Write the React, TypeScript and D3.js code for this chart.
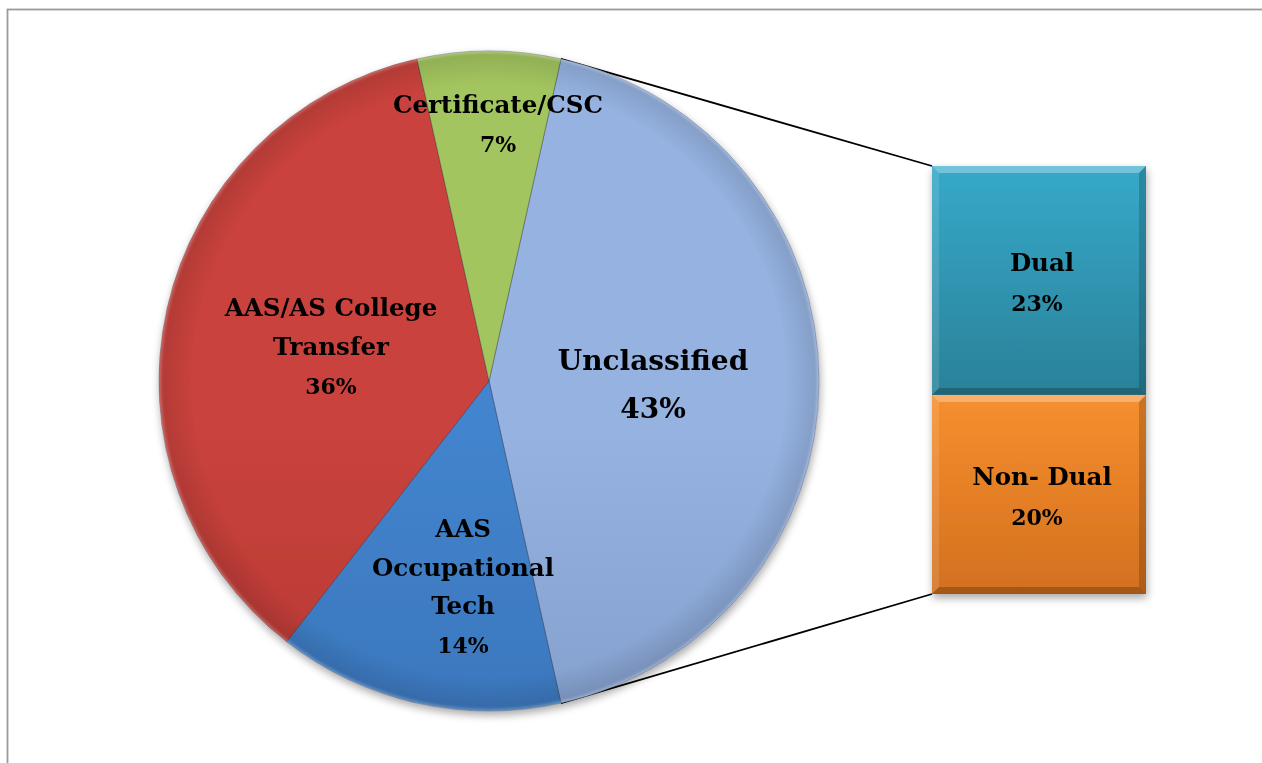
import React from "react";
import * as d3 from "d3";

const pieCategories = ["Unclassified", "AAS Occupational Tech", "AAS/AS College Transfer", "Certificate/CSC"];
const pieValues = [43, 14, 36, 7];
const pieLabelLines = [["Unclassified"], ["AAS", "Occupational", "Tech"], ["AAS/AS College", "Transfer"], ["Certificate/CSC"]];
const barCategories = ["Dual", "Non- Dual"];
const barValues = [23, 20];

const W = 1262;
const H = 763;
const cx = 489;
const cy = 381;
const R = 330;
const barX0 = 932;
const barX1 = 1146;
const barTop = 166;
const barBottom = 594;

const pieColors = [
  ["#95b2e0", "#7089b6"],
  ["#4284cd", "#3366a8"],
  ["#c9433d", "#a02a27"],
  ["#a3c55f", "#8aa948"],
];
const barColors = [
  ["#36a9c9", "#2a8199"],
  ["#f68f2e", "#d3701f"],
];

const pieLabelPos = [
  { x: 653, y: 370, size: 28, gap: 48 },
  { x: 463, y: 537, size: 24.5, gap: 38.5 },
  { x: 331, y: 316, size: 24.5, gap: 39 },
  { x: 498, y: 113, size: 24.5, gap: 39 },
];

export default function App() {
  const total = d3.sum(pieValues);
  const splitAngle = (pieValues[0] / total) * 2 * Math.PI;
  const start = Math.PI / 2 - splitAngle / 2;
  const pie = d3
    .pie<number>()
    .sort(null)
    .value((d) => d)
    .startAngle(start)
    .endAngle(start + 2 * Math.PI);
  const arcs = pie(pieValues);
  const arc = d3.arc<d3.PieArcDatum<number>>().innerRadius(0).outerRadius(R);

  const barTotal = d3.sum(barValues);
  const y = d3.scaleLinear().domain([0, barTotal]).range([barTop, barBottom]);
  let acc = 0;
  const bars = barValues.map((v, i) => {
    const y0 = y(acc);
    acc += v;
    const y1 = y(acc);
    return { v, i, y0, y1 };
  });

  const a0 = arcs[0].startAngle;
  const a1 = arcs[0].endAngle;
  const p0 = [cx + R * Math.sin(a0), cy - R * Math.cos(a0)];
  const p1 = [cx + R * Math.sin(a1), cy - R * Math.cos(a1)];

  const font = "'DejaVu Serif', 'Liberation Serif', serif";
  const bev = 7;

  return (
    <svg
      width={W}
      height={H}
      style={{ position: "absolute", left: 0, top: 0, background: "#fff" }}
      fontFamily={font}
    >
      <defs>
        {pieColors.map((c, i) => (
          <linearGradient key={i} id={`pg${i}`} gradientUnits="userSpaceOnUse" x1={0} y1={cy - R} x2={0} y2={cy + R}>
            <stop offset="0%" stopColor={c[0]} />
            <stop offset="100%" stopColor={c[1]} />
          </linearGradient>
        ))}
        <radialGradient id="rim" gradientUnits="userSpaceOnUse" cx={cx} cy={cy} r={R}>
          <stop offset="0.9" stopColor="#000" stopOpacity={0} />
          <stop offset="0.985" stopColor="#000" stopOpacity={0.1} />
          <stop offset="1" stopColor="#fff" stopOpacity={0.25} />
        </radialGradient>
        {barColors.map((c, i) => (
          <linearGradient key={i} id={`bg${i}`} x1={0} y1={0} x2={0} y2={1}>
            <stop offset="0%" stopColor={c[0]} />
            <stop offset="100%" stopColor={c[1]} />
          </linearGradient>
        ))}
        <filter id="shadow" x="-20%" y="-20%" width="140%" height="140%">
          <feGaussianBlur in="SourceAlpha" stdDeviation="4" />
          <feOffset dx="1" dy="4" result="ob" />
          <feComponentTransfer>
            <feFuncA type="linear" slope="0.35" />
          </feComponentTransfer>
          <feMerge>
            <feMergeNode />
            <feMergeNode in="SourceGraphic" />
          </feMerge>
        </filter>
      </defs>

      <rect x={7.5} y={9.5} width={W + 20} height={H + 20} fill="none" stroke="#9a9a9a" strokeWidth={1.8} />

      {/* connector lines */}
      <line x1={p0[0]} y1={p0[1]} x2={barX0} y2={barTop} stroke="#000" strokeWidth={1.8} />
      <line x1={p1[0]} y1={p1[1]} x2={barX0} y2={barBottom} stroke="#000" strokeWidth={1.8} />

      {/* pie */}
      <g filter="url(#shadow)">
        {arcs.map((a, i) => (
          <path
            key={i}
            d={arc(a) as string}
            transform={`translate(${cx},${cy})`}
            fill={`url(#pg${i})`}
            stroke="rgba(40,40,60,0.35)"
            strokeWidth={1}
          />
        ))}
      </g>
      <circle cx={cx} cy={cy} r={R} fill="url(#rim)" pointerEvents="none" />

      {/* bar */}
      <g filter="url(#shadow)">
        {bars.map((b) => (
          <rect key={b.i} x={barX0} y={b.y0} width={barX1 - barX0} height={b.y1 - b.y0} fill={`url(#bg${b.i})`} />
        ))}
      </g>
      {bars.map((b) => (
        <g key={"bev" + b.i}>
          <polygon
            points={`${barX0},${b.y0} ${barX1},${b.y0} ${barX1 - bev},${b.y0 + bev} ${barX0 + bev},${b.y0 + bev}`}
            fill="#fff"
            opacity={0.3}
          />
          <polygon
            points={`${barX0},${b.y0} ${barX0 + bev},${b.y0 + bev} ${barX0 + bev},${b.y1 - bev} ${barX0},${b.y1}`}
            fill="#fff"
            opacity={0.12}
          />
          <polygon
            points={`${barX1},${b.y0} ${barX1},${b.y1} ${barX1 - bev},${b.y1 - bev} ${barX1 - bev},${b.y0 + bev}`}
            fill="#000"
            opacity={0.18}
          />
          <polygon
            points={`${barX0},${b.y1} ${barX1},${b.y1} ${barX1 - bev},${b.y1 - bev} ${barX0 + bev},${b.y1 - bev}`}
            fill="#000"
            opacity={0.22}
          />
        </g>
      ))}

      {/* pie labels */}
      {arcs.map((a, i) => {
        const pos = pieLabelPos[i];
        const lines = [...pieLabelLines[i], `${pieValues[i]}%`];
        return (
          <text key={"pl" + i} textAnchor="middle" fontWeight="bold" fontSize={pos.size} fill="#000">
            {lines.map((l, j) => (
              <tspan key={j} x={pos.x} y={pos.y + j * pos.gap} fontSize={j === lines.length - 1 && i !== 0 ? pos.size - 2.5 : pos.size}>
                {l}
              </tspan>
            ))}
          </text>
        );
      })}

      {/* bar labels */}
      {bars.map((b) => {
        const mid = (b.y0 + b.y1) / 2;
        const xc = (barX0 + barX1) / 2 + 3;
        return (
          <text key={"bl" + b.i} textAnchor="middle" fontWeight="bold" fontSize={24.5}>
            <tspan x={xc} y={mid - 9}>{barCategories[b.i]}</tspan>
            <tspan x={xc - 5} y={mid + 31} fontSize={22}>{`${b.v}%`}</tspan>
          </text>
        );
      })}
    </svg>
  );
}
